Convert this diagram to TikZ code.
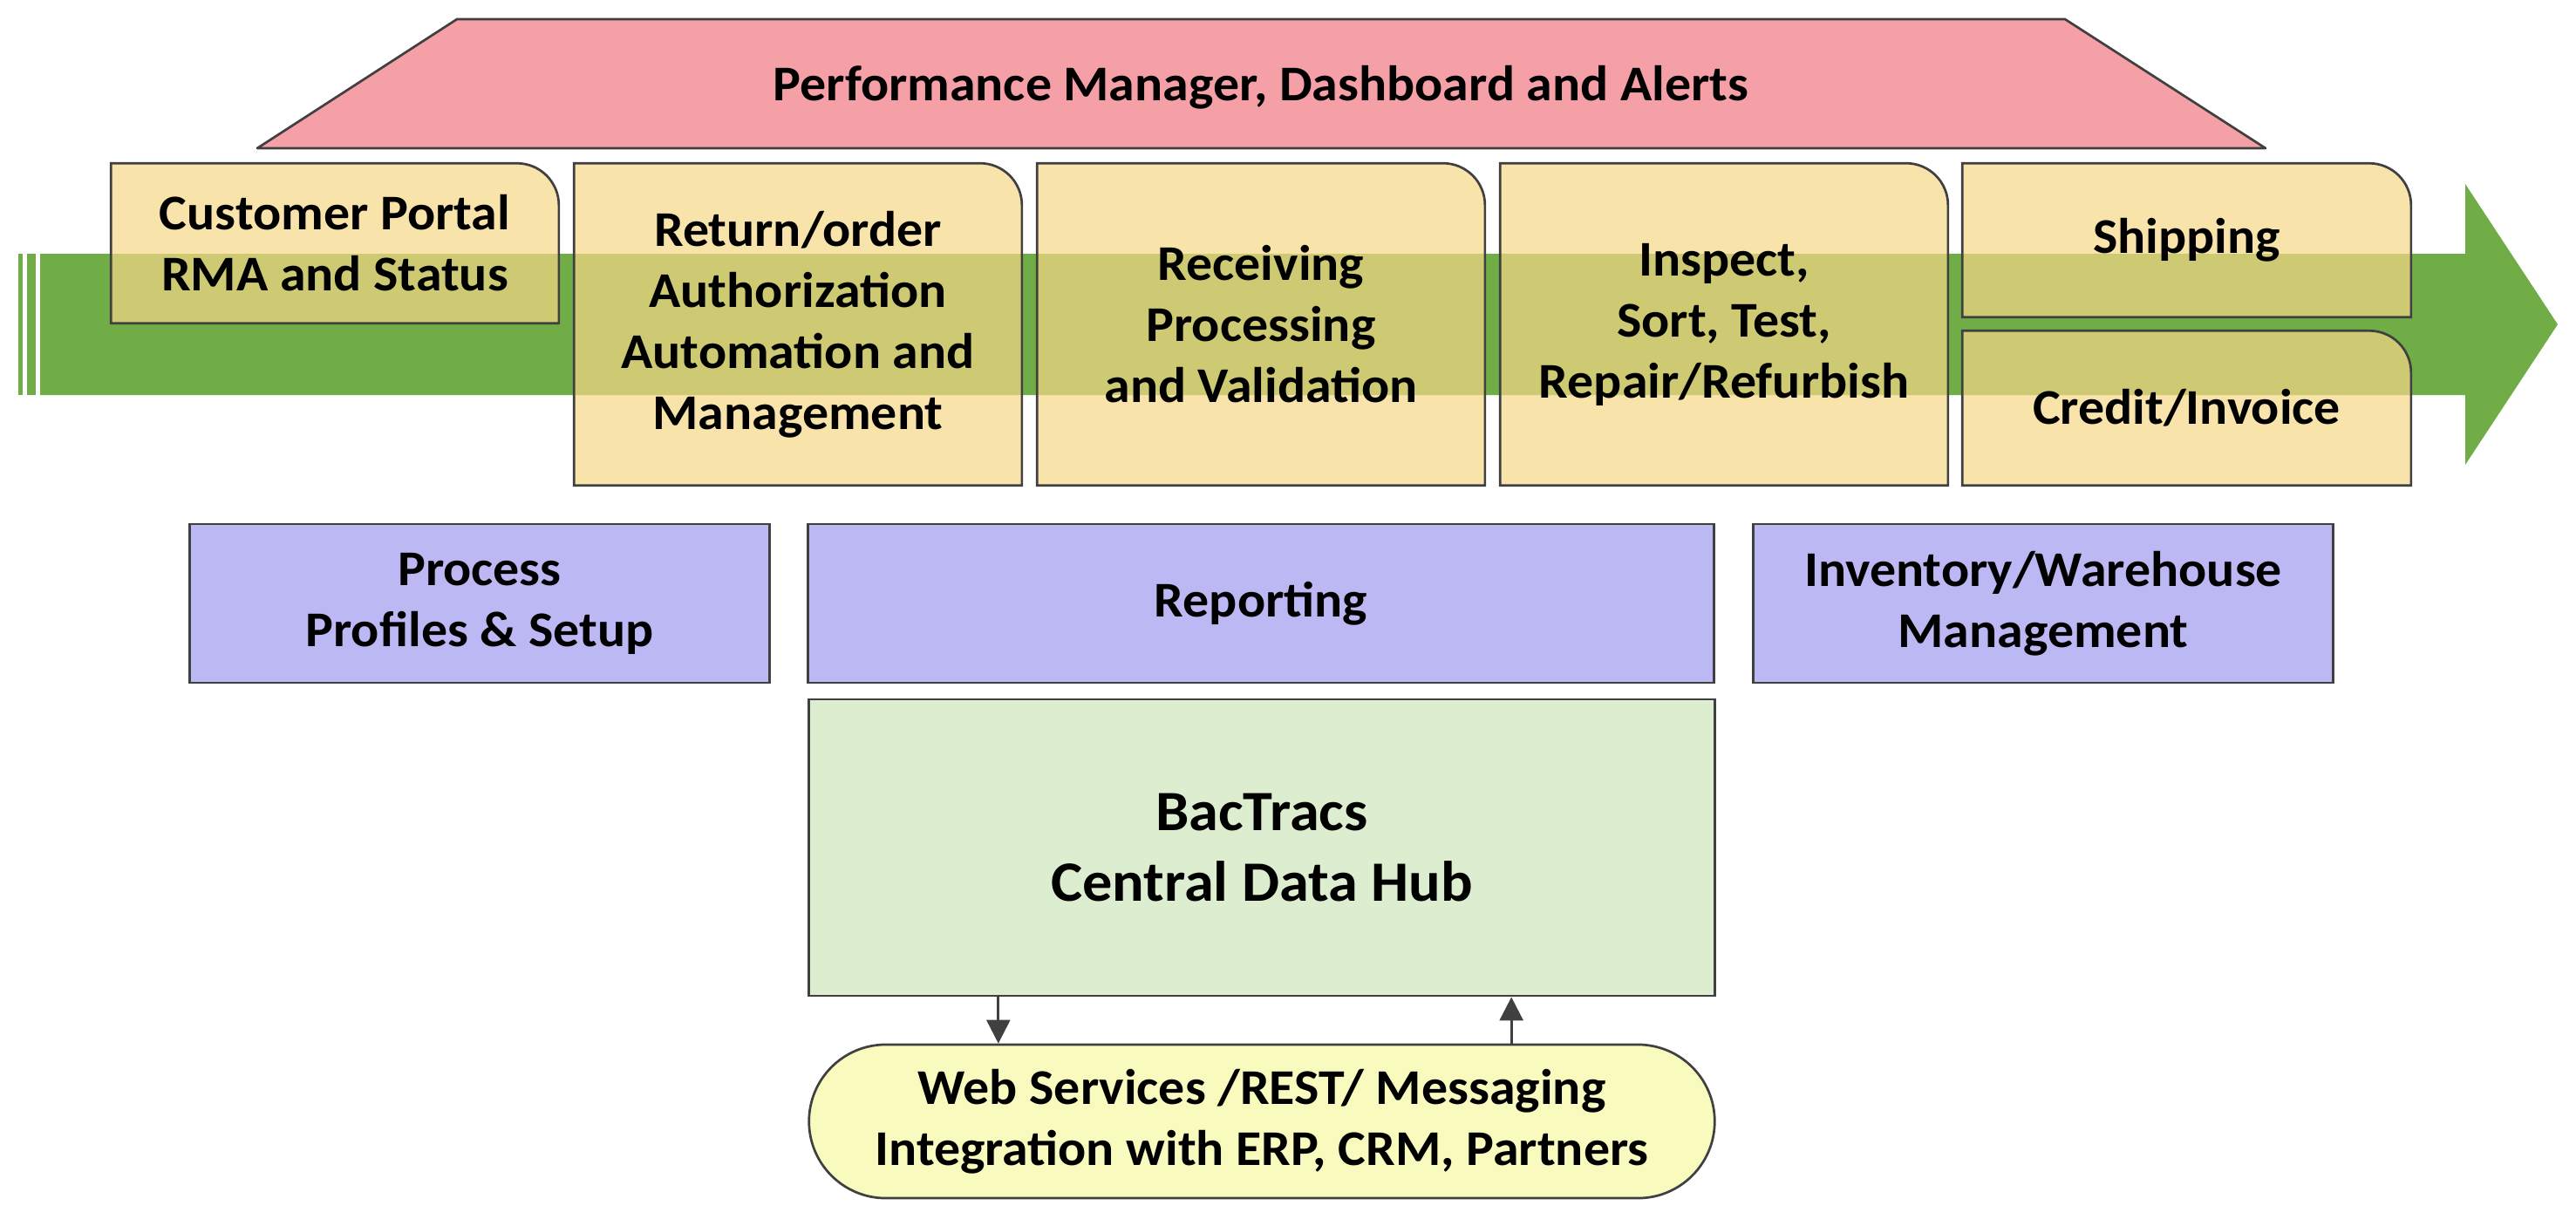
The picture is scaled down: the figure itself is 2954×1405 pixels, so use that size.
\documentclass[tikz,border=0pt]{standalone}
\usepackage{fontspec}
\setmainfont[FakeStretch=1.045]{Carlito}
\usetikzlibrary{arrows.meta,backgrounds}
\definecolor{linegray}{HTML}{404040}
\definecolor{pinkfill}{HTML}{F5A0A6}
\definecolor{bandgreen}{HTML}{70AD47}
\definecolor{yelfill}{HTML}{F5D787}
\definecolor{purfill}{HTML}{BCB8F4}
\definecolor{hubfill}{HTML}{DCEDD0}
\definecolor{pillfill}{HTML}{F8FABE}
\begin{document}
\begin{tikzpicture}[x=0.01cm,y=0.01cm,
  txt/.style={font=\fontsize{16.3}{19.9}\selectfont\bfseries, align=center, text=black, inner sep=0pt},
  stagebox/.style 2 args={txt, minimum width=#1, minimum height=#2},
  yelbox/.style={fill=yelfill, fill opacity=0.7, draw=linegray, line width=0.77pt},
  purbox/.style={txt, draw=linegray, line width=0.77pt, fill=purfill, minimum width=#1, minimum height=1.82cm},
  hubbox/.style={txt, font=\fontsize{18.6}{23}\selectfont\bfseries, draw=linegray, line width=0.77pt, fill=hubfill, minimum width=10.38cm, minimum height=3.40cm},
  pillbox/.style={txt, draw=linegray, line width=0.77pt, fill=pillfill, rounded corners=0.88cm, minimum width=10.38cm, minimum height=1.76cm},
  conn/.style={draw=linegray, line width=0.77pt, -{Triangle[width=0.27cm,length=0.27cm]}},
  trap/.style={fill=pinkfill, draw=linegray, line width=0.77pt, line join=round}
]
\useasboundingbox (0,0) rectangle (2954,-1405);

% Performance manager trapezoid
\coordinate (tbl) at (295,-170);
\coordinate (ttl) at (524,-22);
\coordinate (ttr) at (2368,-22);
\coordinate (tbr) at (2598,-170);
\draw[trap] (tbl) -- (ttl) -- (ttr) -- (tbr) -- cycle;
\node[txt] (perf) at (1446,-100) {Performance Manager, Dashboard and Alerts};

% process stages (text nodes; shapes drawn on background layer)
\node[stagebox={5.12cm}{1.82cm}] (cust) at (384,-279) {Customer Portal\\RMA and Status};
\node[stagebox={5.12cm}{3.68cm}] (ret) at (915,-372) {Return/order\\Authorization\\Automation and\\Management};
\node[stagebox={5.12cm}{3.68cm}] (rec) at (1446,-372) {Receiving\\Processing\\and Validation};
\node[stagebox={5.12cm}{3.68cm}] (insp) at (1977,-372) {Inspect,\\Sort, Test,\\Repair/Refurbish};
\node[stagebox={5.13cm}{1.75cm}] (ship) at (2507.5,-275.5) {Shipping};
\node[stagebox={5.13cm}{1.76cm}] (cred) at (2507.5,-468) {Credit/Invoice};

\begin{scope}[on background layer]
  % green process arrow
  \fill[bandgreen] (46,-291) -- (2827,-291) -- (2827,-211) -- (2933,-372)
     -- (2827,-533) -- (2827,-453) -- (46,-453) -- cycle;
  \fill[bandgreen] (21,-291) rectangle (26,-453);
  \fill[bandgreen] (31,-291) rectangle (41,-453);
  \foreach \n in {cust,ret,rec,insp,ship,cred}{
    \draw[yelbox] (\n.south west) -- (\n.north west) -- ([xshift=-0.48cm]\n.north east)
      arc[start angle=90,end angle=0,radius=0.48cm] -- (\n.south east) -- cycle;
  }
\end{scope}

% support modules
\node[purbox=6.64cm] (prof) at (550,-692) {Process\\Profiles \& Setup};
\node[purbox=10.38cm] (rep) at (1446,-692) {Reporting};
\node[purbox=6.64cm] (inv) at (2343,-692) {Inventory/Warehouse\\Management};

% hub and integration
\node[hubbox] (hub) at (1447,-972) {BacTracs\\Central Data Hub};
\node[pillbox] (pill) at (1447,-1286) {Web Services /REST/ Messaging\\Integration with ERP, CRM, Partners};

\draw[conn] ([xshift=-3.02cm]hub.south) -- ([xshift=-3.02cm]pill.north);
\draw[conn] ([xshift=2.86cm]pill.north) -- ([xshift=2.86cm]hub.south);
\end{tikzpicture}
\end{document}
